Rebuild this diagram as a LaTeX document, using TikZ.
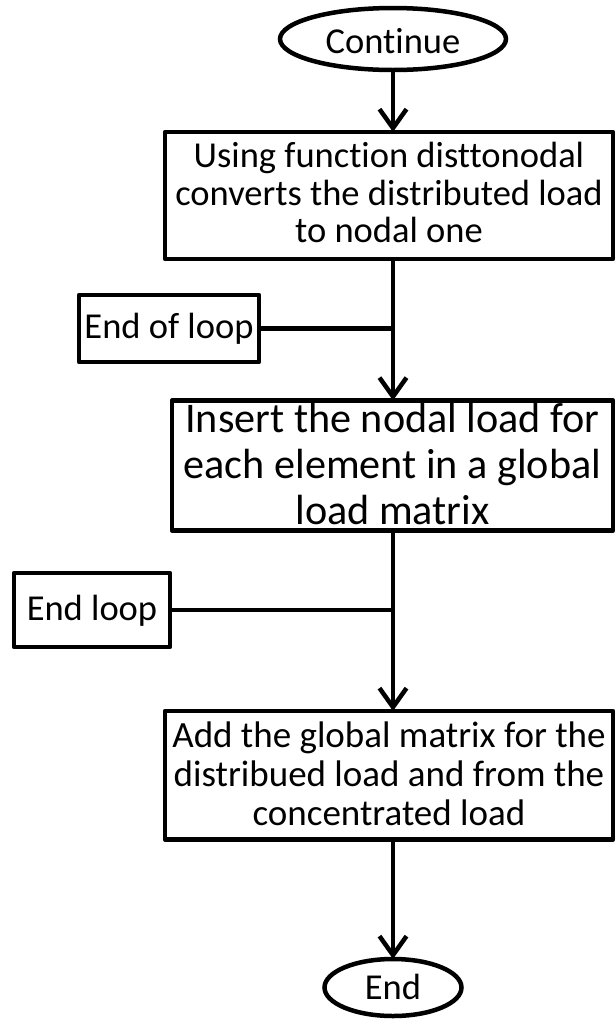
\documentclass[tikz,border=0pt]{standalone}
\usepackage{fontspec}
\setmainfont{Carlito}[Ligatures=NoCommon]
\usetikzlibrary{arrows.meta,shapes.geometric}

\begin{document}
\begin{tikzpicture}[x=1pt,y=-1pt,
  every node/.style={inner sep=0pt, outer sep=0pt},
  ln/.style={line width=4.5pt, draw=black},
  termnode/.style={ellipse, ln, font=\fontsize{36.5}{37}\selectfont},
  procbox/.style={rectangle, ln, line join=round, align=flush center,
    font=\fontsize{36.5}{37.5}\selectfont},
  loopbox/.style={rectangle, ln, line join=round,
    font=\fontsize{36.5}{37}\selectfont},
  flow/.style={line width=4.5pt, -{Straight Barb[length=19pt,width=27pt]}},
  joinline/.style={line width=4.5pt},
]
\useasboundingbox (0,0) rectangle (616,1021);
\coordinate (spine) at (393,0);

% terminals
\node[termnode, minimum width=226pt, minimum height=62pt,
      text height=30pt, text depth=2pt] (cont) at (393,39) {Continue};
\node[termnode, minimum width=137pt, minimum height=57pt,
      text height=26pt, text depth=3pt] (fin) at (393,987.5) {End};

% process boxes
\node[procbox, minimum width=448pt, minimum height=127pt, text width=447pt,
      text height=26pt, text depth=82pt] (b1) at (389,195.5)
  {Using function disttonodal\\converts the distributed load\\to nodal one};
\node[procbox, minimum width=441pt, minimum height=130pt, text width=440pt,
      font=\fontsize{42.2}{46}\selectfont,
      text height=30pt, text depth=97pt] (b2) at (392.5,465.5)
  {Insert the nodal load for\\each element in a global\\load matrix};
\node[procbox, minimum width=448pt, minimum height=128.5pt, text width=447pt,
      font=\fontsize{37}{39}\selectfont,
      text height=26pt, text depth=81pt] (b3) at (389,775.25)
  {Add the global matrix for the\\distribued load and from the\\concentrated load};

% loop ends
\node[loopbox, minimum width=180pt, minimum height=67pt,
      text height=26pt, text depth=7pt] (eol) at (169,328.5) {End of loop};
\node[loopbox, minimum width=156pt, minimum height=74pt,
      text height=28pt, text depth=7pt] (el) at (92,610) {End loop};

% connectors
\draw[flow] (cont.south) -- (b1.north -| cont.south);
\draw[flow] (b1.south -| spine) -- (b2.north -| spine);
\draw[joinline] (eol.east) -- (eol.east -| spine);
\draw[flow] (b2.south -| spine) -- (b3.north -| spine);
\draw[joinline] (el.east) -- (el.east -| spine);
\draw[flow] (b3.south -| spine) -- (fin.north);
\end{tikzpicture}
\end{document}
